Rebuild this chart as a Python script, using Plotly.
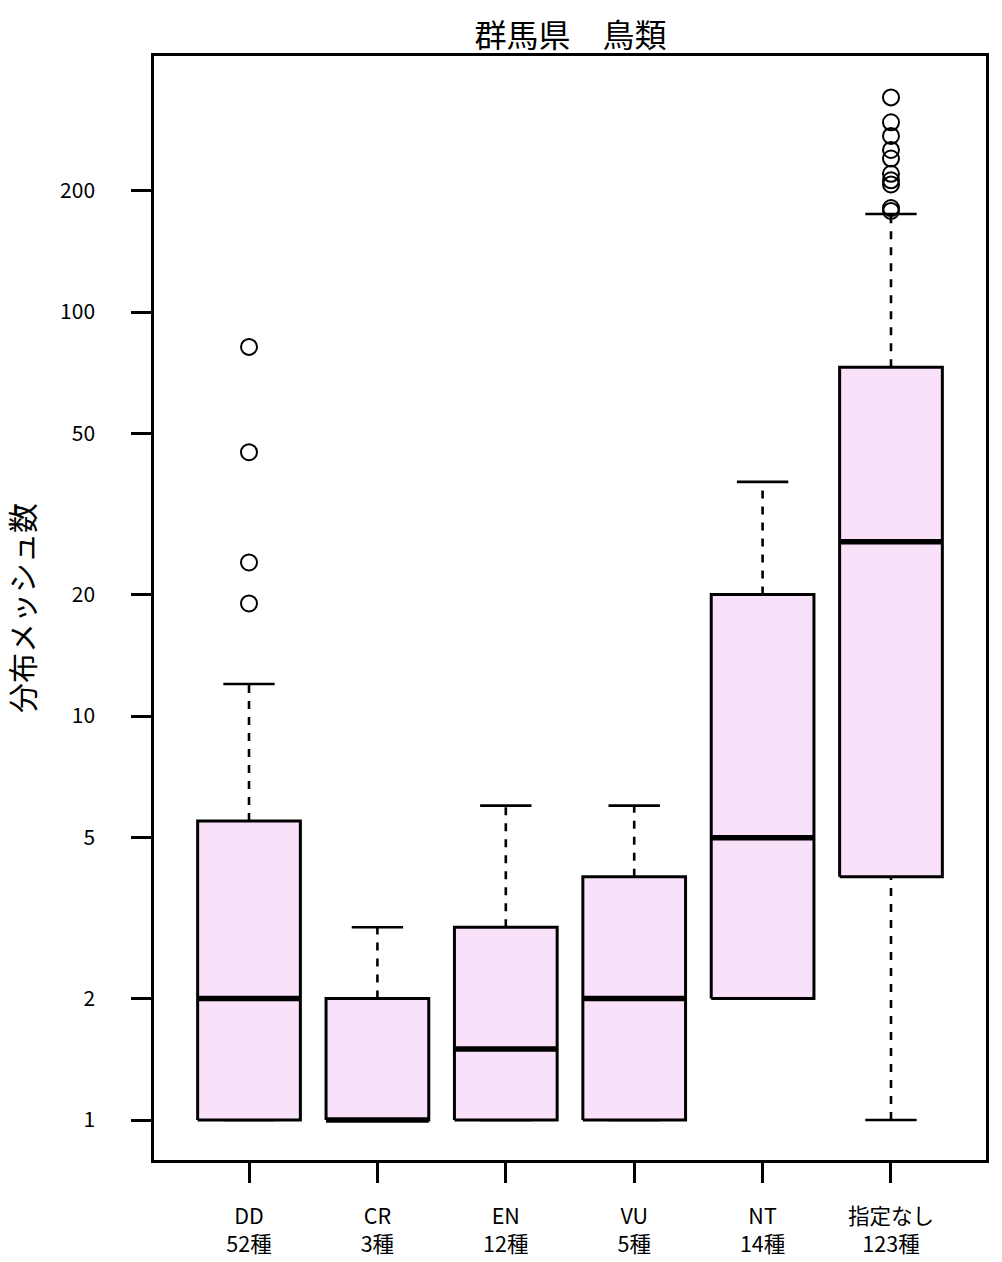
import plotly.graph_objects as go

# ---- data ----
categories = ["DD", "CR", "EN", "VU", "NT", "指定なし"]
species_counts = ["52種", "3種", "12種", "5種", "14種", "123種"]
q1 = [1, 1, 1, 1, 2, 4]
medians = [2, 1, 1.5, 2, 5, 27]
q3 = [5.5, 2, 3, 4, 20, 73]
lower_whisker = [1, 1, 1, 1, 2, 1]
upper_whisker = [12, 3, 6, 6, 38, 175]
outliers = [
    [82, 45, 24, 19],
    [],
    [],
    [],
    [],
    [340, 295, 273, 252, 240, 220, 212, 207, 181, 178],
]
y_ticks = [1, 2, 5, 10, 20, 50, 100, 200]

FILL = "#F9E1F9"
FONT = "Noto Sans CJK JP, sans-serif"
BOX_HALF = 0.4
CAP_HALF = 0.2

fig = go.Figure()

for i, cat in enumerate(categories):
    xc = i + 1
    # whiskers (dashed)
    if upper_whisker[i] > q3[i]:
        fig.add_trace(go.Scatter(x=[xc, xc], y=[q3[i], upper_whisker[i]], mode="lines",
                                 line=dict(color="black", width=2.6, dash="8px,8px"),
                                 showlegend=False, hoverinfo="skip"))
    if lower_whisker[i] < q1[i]:
        fig.add_trace(go.Scatter(x=[xc, xc], y=[lower_whisker[i], q1[i]], mode="lines",
                                 line=dict(color="black", width=2.6, dash="8px,8px"),
                                 showlegend=False, hoverinfo="skip"))
    # caps
    for w in (upper_whisker[i], lower_whisker[i]):
        fig.add_trace(go.Scatter(x=[xc - CAP_HALF, xc + CAP_HALF], y=[w, w], mode="lines",
                                 line=dict(color="black", width=2.6),
                                 showlegend=False, hoverinfo="skip"))
    # box
    fig.add_trace(go.Scatter(
        x=[xc - BOX_HALF, xc + BOX_HALF, xc + BOX_HALF, xc - BOX_HALF, xc - BOX_HALF],
        y=[q1[i], q1[i], q3[i], q3[i], q1[i]],
        mode="lines", fill="toself", fillcolor=FILL,
        line=dict(color="black", width=3), showlegend=False, name=cat))
    # median
    fig.add_trace(go.Scatter(x=[xc - BOX_HALF, xc + BOX_HALF], y=[medians[i], medians[i]],
                             mode="lines", line=dict(color="black", width=5.5),
                             showlegend=False, hoverinfo="skip"))
    # outliers
    if outliers[i]:
        fig.add_trace(go.Scatter(x=[xc] * len(outliers[i]), y=outliers[i], mode="markers",
                                 marker=dict(symbol="circle-open", size=16, color="black",
                                             line=dict(width=2)),
                                 showlegend=False))

fig.update_layout(
    width=1002, height=1262,
    margin=dict(l=154, r=16, t=56, b=102),
    plot_bgcolor="white", paper_bgcolor="white",
    title=dict(text="群馬県　鳥類", x=0.5693, xanchor="center", y=0.9715, yanchor="middle",
               font=dict(family="Noto Sans CJK JP", size=32, color="black")),
    font=dict(family=FONT, color="black"),
    annotations=[dict(text="分布メッシュ数", xref="paper", yref="paper",
                      x=-0.1599, y=0.5, xanchor="center", yanchor="middle",
                      textangle=-90, showarrow=False,
                      font=dict(family="Noto Sans CJK JP", size=30, color="black"))],
)

fig.update_xaxes(
    range=[0.26, 6.74], tickvals=list(range(1, len(categories) + 1)),
    ticktext=[f"{c}<br>{n}" for c, n in zip(categories, species_counts)],
    ticks="outside", ticklen=20, tickwidth=2.5, tickcolor="black",
    ticklabelstandoff=15,
    tickfont=dict(family=FONT, size=21.5, color="black"),
    showline=True, linewidth=2.5, linecolor="black", mirror=True,
    showgrid=False, zeroline=False, automargin=False,
)
fig.update_yaxes(
    type="log", range=[-0.099, 2.634], tickvals=y_ticks, ticktext=[str(v) for v in y_ticks],
    ticks="outside", ticklen=20, tickwidth=2.5, tickcolor="black",
    ticklabelstandoff=32,
    tickfont=dict(family=FONT, size=21, color="black"),
    showline=True, linewidth=2.5, linecolor="black", mirror=True,
    showgrid=False, zeroline=False, automargin=False,
)

fig.write_html("out.html", config={"displayModeBar": False},
               post_script="document.body.style.margin='0';")
